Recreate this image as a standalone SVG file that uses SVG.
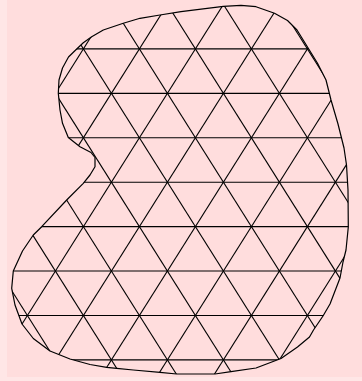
<svg xmlns="http://www.w3.org/2000/svg" width="362" height="381" viewBox="0 0 362 381">
<style>
.grid line{stroke:#000;stroke-width:1.1;fill:none}
.outline{fill:none;stroke:#000;stroke-width:1.2;stroke-linejoin:round}
</style>
<defs>
<clipPath id="blob">
<path id="blobPath" d="M58.3,93.3 L59,80 L62.5,68 L68.5,57 L76.7,49 L83.3,42.7 L91.7,36.7 L103.3,30 L123.3,23.3 L140,18.3 L160,15 L181,11.7 L223.3,6.3 L241,5.3 L256,6.7 L274.5,13.3 L287.5,20.5 L297,30 L307.5,47 L317.5,63.3 L326,80 L331,100 L338,124 L344,148 L346.5,165 L348,190 L348.3,227 L346,250 L343,262 L340,278 L330,304 L323,316 L313.5,330 L309.5,337 L297.5,347 L281,358.5 L256,368 L231,371.7 L215,374 L176.7,374 L160,372.3 L133.3,370 L116.7,368.3 L106.7,367.3 L90,364.5 L70,359 L50,351 L33.3,338.5 L22,324 L15,305 L11.7,288.3 L13.3,271 L22.5,251 L33.3,235 L41.7,226.7 L66.7,200 L83.3,183.3 L90,175 L95,166.7 L95,157.5 L91,152.5 L80,146.7 L68.3,137.5 L62.5,123.3 L60,110 Z"/>
</clipPath>
</defs>
<rect x="0" y="0" width="362" height="381" fill="#ffe6e6"/>
<rect x="7" y="0" width="355" height="377" fill="#ffdddd"/>
<g id="mesh" class="grid" clip-path="url(#blob)">
<line x1="0" y1="48.9" x2="362" y2="48.9"/>
<line x1="0" y1="93.33" x2="362" y2="93.33"/>
<line x1="0" y1="137.76" x2="362" y2="137.76"/>
<line x1="0" y1="182.19" x2="362" y2="182.19"/>
<line x1="0" y1="226.62" x2="362" y2="226.62"/>
<line x1="0" y1="271.05" x2="362" y2="271.05"/>
<line x1="0" y1="315.48" x2="362" y2="315.48"/>
<line x1="0" y1="359.91" x2="362" y2="359.91"/>
<line x1="27.4" y1="-39.96" x2="-252.6" y2="404.34"/>
<line x1="83.4" y1="-39.96" x2="-196.6" y2="404.34"/>
<line x1="139.4" y1="-39.96" x2="-140.6" y2="404.34"/>
<line x1="195.4" y1="-39.96" x2="-84.6" y2="404.34"/>
<line x1="251.4" y1="-39.96" x2="-28.6" y2="404.34"/>
<line x1="307.4" y1="-39.96" x2="27.4" y2="404.34"/>
<line x1="363.4" y1="-39.96" x2="83.4" y2="404.34"/>
<line x1="419.4" y1="-39.96" x2="139.4" y2="404.34"/>
<line x1="475.4" y1="-39.96" x2="195.4" y2="404.34"/>
<line x1="531.4" y1="-39.96" x2="251.4" y2="404.34"/>
<line x1="587.4" y1="-39.96" x2="307.4" y2="404.34"/>
<line x1="643.4" y1="-39.96" x2="363.4" y2="404.34"/>
<line x1="-252.6" y1="-39.96" x2="27.4" y2="404.34"/>
<line x1="-196.6" y1="-39.96" x2="83.4" y2="404.34"/>
<line x1="-140.6" y1="-39.96" x2="139.4" y2="404.34"/>
<line x1="-84.6" y1="-39.96" x2="195.4" y2="404.34"/>
<line x1="-28.6" y1="-39.96" x2="251.4" y2="404.34"/>
<line x1="27.4" y1="-39.96" x2="307.4" y2="404.34"/>
<line x1="83.4" y1="-39.96" x2="363.4" y2="404.34"/>
<line x1="139.4" y1="-39.96" x2="419.4" y2="404.34"/>
<line x1="195.4" y1="-39.96" x2="475.4" y2="404.34"/>
<line x1="251.4" y1="-39.96" x2="531.4" y2="404.34"/>
<line x1="307.4" y1="-39.96" x2="587.4" y2="404.34"/>
</g>
<g id="boundary">
<use href="#blobPath" class="outline"/>
</g>
</svg>
